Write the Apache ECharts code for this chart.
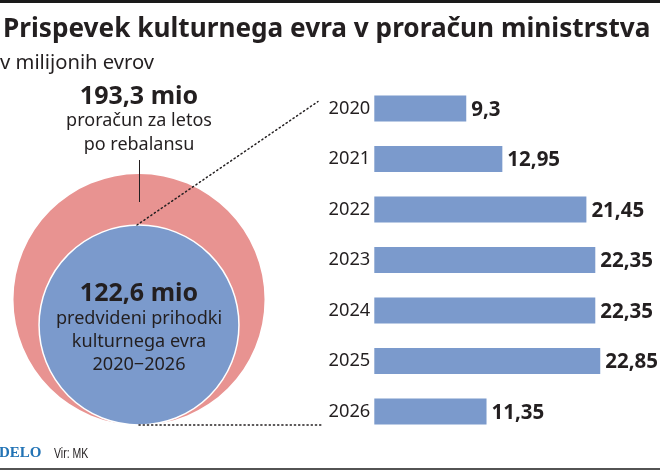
<!DOCTYPE html>
<html><head><meta charset="utf-8">
<style>html,body{margin:0;padding:0;background:#fff}#c{width:660px;height:472px}</style>
<script src="https://cdn.jsdelivr.net/npm/echarts@6/dist/echarts.min.js"></script>
</head><body><div id="c"></div>
<script>
const years = ['2020','2021','2022','2023','2024','2025','2026'];
const values = [9.3,12.95,21.45,22.35,22.35,22.85,11.35];
const totals = [193.3,122.6];
const titleText = 'Prispevek kulturnega evra v proračun ministrstva';
const subtitleText = 'v milijonih evrov';

const INK = '#231f20', BLUE = '#7b9acc', RED = '#e89391';
const FONT = '"Noto Sans"';
const k = 9.027; // px of radius per sqrt(mio)
const cx = 139, bottom = 425;
const rOuter = k*Math.sqrt(totals[0]), rInner = k*Math.sqrt(totals[1]);
const num = v => String(v).replace('.', ',');
const txt = (x,y,text,size,weight,extra,scaleX) => ({type:'text',x,y,z:20,silent:true,scaleX:scaleX||1,style:Object.assign({
  text,x:0,y:0,fill:INK,font:`${weight} ${size}px ${FONT}`,align:'center',verticalAlign:'middle'},extra||{})});
const ln = (x1,y1,x2,y2,w,dash,color) => ({type:'line',z:dash?15:10,silent:true,shape:{x1,y1,x2,y2},
  style:{stroke:color||INK,lineWidth:w,lineDash:dash||null,lineCap:dash?'round':'butt'}});
const pie = (v,r,color,border) => ({type:'pie',silent:true,animation:false,center:[cx,bottom-r],radius:[0,r],
  label:{show:false},labelLine:{show:false},itemStyle:{color,borderColor:border,borderWidth:border?1.5:0},
  data:[{value:v}],z:1});

const chart = echarts.init(document.getElementById('c'),null,{renderer:'canvas'});
chart.setOption({
  animation:false,
  grid:{left:374.3,top:83.25,width:247.2,height:353.5,containLabel:false},
  xAxis:{type:'value',min:0,max:25,show:false},
  yAxis:{type:'category',data:years,inverse:true,
    axisLine:{show:false},axisTick:{show:false},splitLine:{show:false},
    axisLabel:{color:INK,fontFamily:FONT,fontSize:18.3,margin:4,padding:[2,0,0,0]}},
  series:[
    pie(totals[0],rOuter,RED),
    pie(totals[1],rInner,BLUE,'#fff'),
    {type:'bar',data:values,barWidth:26,silent:true,
     itemStyle:{color:BLUE},
     label:{show:true,position:'right',distance:5,offset:[0,1.5],color:INK,fontFamily:FONT,fontWeight:'bold',fontSize:20.5,
       formatter:p=>num(p.value)}}
  ],
  graphic:[
    ln(0,1.5,660,1.5,3,null,'#1a1a1a'),
    ln(0,469,660,469,1.5,null,'#1a1a1a'),
    txt(3,30,titleText,26.2,'bold',{align:'left'}),
    txt(0,63,subtitleText,20.2,'normal',{align:'left'}),
    txt(139,97,num(totals[0])+' mio',25,'bold'),
    txt(139,121,'proračun za letos',18,'normal'),
    txt(139,145,'po rebalansu',18,'normal'),
    ln(139.5,160,139.5,202,1),
    ln(137,225,318,101.5,1.5,[1.2,3]),
    ln(139,425,323,425,1.5,[1.2,3]),
    txt(139,294,num(totals[1])+' mio',25,'bold'),
    txt(139,319,'predvideni prihodki',18.1,'normal'),
    txt(139,342,'kulturnega evra',18.1,'normal'),
    txt(139,365,'2020−2026',18.1,'normal'),
    txt(-1,453,'DELO',15,'bold',{align:'left',fill:'#2273b5',font:'bold 15px "Liberation Serif"'}),
    txt(54,454,'Vir: MK',15,'normal',{align:'left',font:'normal 15px "Liberation Sans"'},0.7)
  ]
});
</script></body></html>
